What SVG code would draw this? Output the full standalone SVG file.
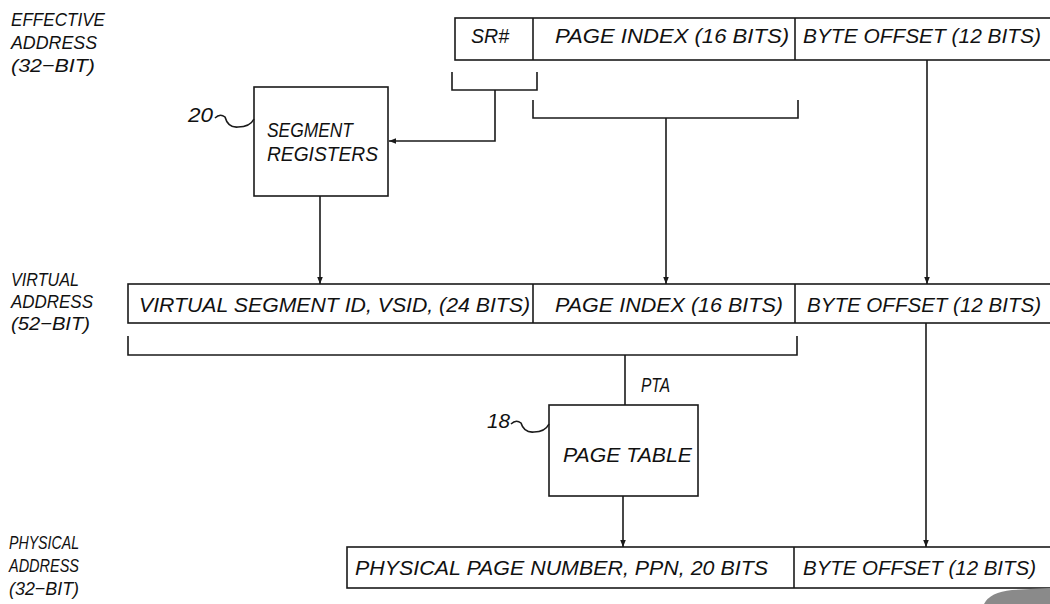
<svg xmlns="http://www.w3.org/2000/svg" width="1050" height="604" viewBox="0 0 1050 604">
<defs>
<style>
.t{font-family:"Liberation Sans","DejaVu Sans",sans-serif;font-style:italic;font-size:21px;fill:#111}
.lb{font-family:"Liberation Sans","DejaVu Sans",sans-serif;font-style:italic;font-size:19px;fill:#111}
.box{fill:#fff;stroke:#1a1a1a;stroke-width:1.6}
.ln{fill:none;stroke:#1a1a1a;stroke-width:1.6}
</style>
<marker id="ah" viewBox="0 0 10 10" refX="10" refY="5" markerWidth="7" markerHeight="7" orient="auto" markerUnits="userSpaceOnUse">
<path d="M0,1 L10,5 L0,9 Z" fill="#1a1a1a"/>
</marker>
</defs>
<rect width="1050" height="604" fill="#fff"/>

<g id="labels">
<text class="lb" x="11" y="26" textLength="94" lengthAdjust="spacingAndGlyphs">EFFECTIVE</text>
<text class="lb" x="11" y="49" textLength="86" lengthAdjust="spacingAndGlyphs">ADDRESS</text>
<text class="lb" x="11" y="72" textLength="84" lengthAdjust="spacingAndGlyphs">(32−BIT)</text>
<text class="lb" x="11" y="286" textLength="68" lengthAdjust="spacingAndGlyphs">VIRTUAL</text>
<text class="lb" x="11" y="308" textLength="82" lengthAdjust="spacingAndGlyphs">ADDRESS</text>
<text class="lb" x="11" y="330" textLength="79" lengthAdjust="spacingAndGlyphs">(52−BIT)</text>
<text class="lb" x="9" y="549" textLength="70" lengthAdjust="spacingAndGlyphs">PHYSICAL</text>
<text class="lb" x="9" y="572" textLength="70" lengthAdjust="spacingAndGlyphs">ADDRESS</text>
<text class="lb" x="9" y="595" textLength="70" lengthAdjust="spacingAndGlyphs">(32−BIT)</text>
</g>

<g id="effective-address">
<rect class="box" x="455" y="18" width="620" height="42"/>
<line class="ln" x1="533" y1="18" x2="533" y2="60"/>
<line class="ln" x1="795" y1="18" x2="795" y2="60"/>
<text class="t" x="471" y="43" textLength="38" lengthAdjust="spacingAndGlyphs">SR#</text>
<text class="t" x="555" y="43" textLength="234" lengthAdjust="spacingAndGlyphs">PAGE INDEX (16 BITS)</text>
<text class="t" x="803" y="43" textLength="238" lengthAdjust="spacingAndGlyphs">BYTE OFFSET (12 BITS)</text>
</g>

<g id="segment-registers">
<rect class="box" x="254" y="87" width="134" height="109"/>
<text class="t" x="267" y="137" textLength="86" lengthAdjust="spacingAndGlyphs">SEGMENT</text>
<text class="t" x="267" y="161" textLength="111" lengthAdjust="spacingAndGlyphs">REGISTERS</text>
<text class="t" x="188" y="122" textLength="25" lengthAdjust="spacingAndGlyphs">20</text>
<path class="ln" d="M215,118 q5,-5 10,-1 q3,11 13,10 q12,0 16,-8"/>
</g>

<g id="virtual-address">
<rect class="box" x="128" y="284" width="940" height="39"/>
<line class="ln" x1="533" y1="284" x2="533" y2="323"/>
<line class="ln" x1="795" y1="284" x2="795" y2="323"/>
<text class="t" x="139" y="312" textLength="391" lengthAdjust="spacingAndGlyphs">VIRTUAL SEGMENT ID, VSID, (24 BITS)</text>
<text class="t" x="555" y="312" textLength="228" lengthAdjust="spacingAndGlyphs">PAGE INDEX (16 BITS)</text>
<text class="t" x="807" y="312" textLength="234" lengthAdjust="spacingAndGlyphs">BYTE OFFSET (12 BITS)</text>
</g>

<g id="page-table">
<rect class="box" x="549" y="405" width="149" height="91"/>
<text class="t" x="563" y="462" textLength="129" lengthAdjust="spacingAndGlyphs">PAGE TABLE</text>
<text class="t" x="487" y="428" textLength="23" lengthAdjust="spacingAndGlyphs">18</text>
<path class="ln" d="M511,424 q5,-5 10,-1 q3,10 13,9 q11,0 15,-8"/>
</g>

<g id="physical-address">
<rect class="box" x="347" y="547" width="720" height="41"/>
<line class="ln" x1="794" y1="547" x2="794" y2="588"/>
<text class="t" x="355" y="575" textLength="413" lengthAdjust="spacingAndGlyphs">PHYSICAL PAGE NUMBER, PPN, 20 BITS</text>
<text class="t" x="803" y="575" textLength="233" lengthAdjust="spacingAndGlyphs">BYTE OFFSET (12 BITS)</text>
</g>

<g id="connectors">
<path class="ln" d="M452,72 V90 H537 V72"/>
<path class="ln" d="M495,90 V141 H389" marker-end="url(#ah)"/>
<path class="ln" d="M533,100 V118 H798 V100"/>
<path class="ln" d="M666,118 V284" marker-end="url(#ah)"/>
<path class="ln" d="M927,60 V284" marker-end="url(#ah)"/>
<path class="ln" d="M320,196 V284" marker-end="url(#ah)"/>
<path class="ln" d="M128,336 V355 H797 V336"/>
<path class="ln" d="M625,355 V405"/>
<text class="t" x="641" y="392" textLength="29" lengthAdjust="spacingAndGlyphs">PTA</text>
<path class="ln" d="M623,496 V547" marker-end="url(#ah)"/>
<path class="ln" d="M926,323 V547" marker-end="url(#ah)"/>
</g>

<path d="M984,604 Q990,592 1012,590 L1050,588 L1050,604 Z" fill="#8a8a8a"/>
</svg>
